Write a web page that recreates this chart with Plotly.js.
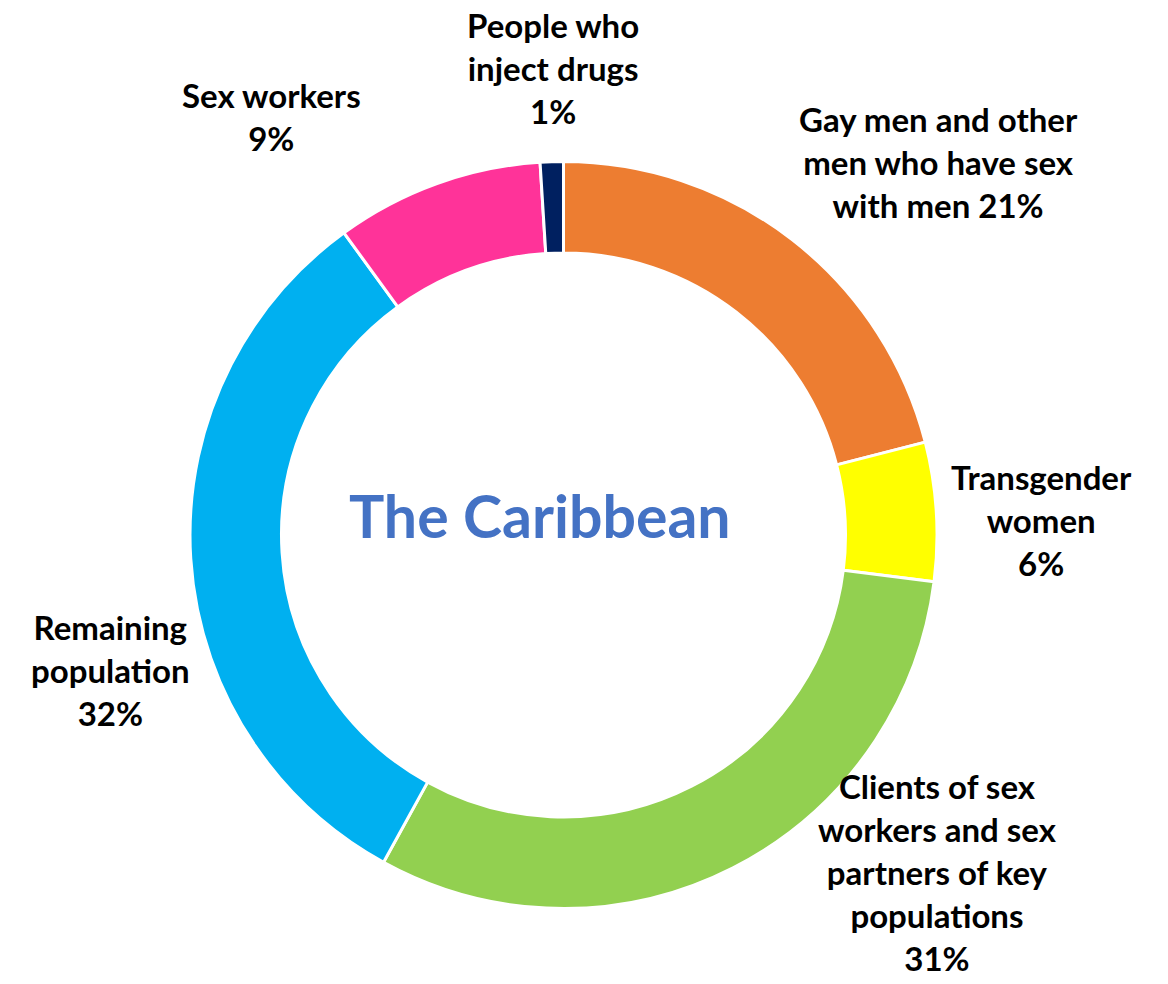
<!DOCTYPE html>
<html>
<head>
<meta charset="utf-8">
<script src="https://cdn.plot.ly/plotly-3.0.1.min.js"></script>
<style>html,body{margin:0;padding:0;background:#fff;}#chart{width:1168px;height:984px;}</style>
</head>
<body>
<div id="chart"></div>
<script>
const categories = [
  "Gay men and other men who have sex with men",
  "Transgender women",
  "Clients of sex workers and sex partners of key populations",
  "Remaining population",
  "Sex workers",
  "People who inject drugs"
];
const values = [21, 6, 31, 32, 9, 1];
const colors = ["#ED7D31", "#FFFF00", "#92D050", "#00B0F0", "#FF3399", "#002060"];
const labelTexts = [
  "Gay men and other<br>men who have sex<br>with men 21%",
  "Transgender<br>women<br>6%",
  "Clients of sex<br>workers and sex<br>partners of key<br>populations<br>31%",
  "Remaining<br>population<br>32%",
  "Sex workers<br>9%",
  "People who<br>inject drugs<br>1%"
];
const labelPos = [
  [938, 162], [1041, 520], [937, 872], [110, 670], [271, 116], [553, 68]
];
const W = 1168, H = 984;

const annotations = labelTexts.map((t, i) => ({
  text: t, xref: "paper", yref: "paper",
  x: labelPos[i][0] / W, y: 1 - labelPos[i][1] / H,
  xanchor: "center", yanchor: "middle", showarrow: false, align: "center",
  font: {family: "Lato, 'Open Sans', sans-serif", size: 33, color: "#000", weight: "bold"}
}));
annotations.push({
  text: "<b>The Caribbean</b>", xref: "paper", yref: "paper",
  x: 540 / W, y: 1 - 515 / H, xanchor: "center", yanchor: "middle", showarrow: false,
  font: {family: "Lato, 'Open Sans', sans-serif", size: 59, color: "#4472C4"}
});

const cx = 563.5, cy = 535, R = 373.5;
const trace = {
  type: "pie",
  labels: categories,
  values: values,
  sort: false,
  direction: "clockwise",
  rotation: 0,
  hole: 0.755,
  marker: {colors: colors, line: {color: "#ffffff", width: 3}},
  textinfo: "none",
  hoverinfo: "label+percent",
  showlegend: false,
  domain: {x: [(cx - R) / W, (cx + R) / W], y: [1 - (cy + R) / H, 1 - (cy - R) / H]}
};

Plotly.newPlot("chart", [trace], {
  width: W, height: H,
  margin: {l: 0, r: 0, t: 0, b: 0},
  paper_bgcolor: "#fff",
  showlegend: false,
  annotations: annotations
}, {displayModeBar: false, staticPlot: true});
</script>
</body>
</html>
